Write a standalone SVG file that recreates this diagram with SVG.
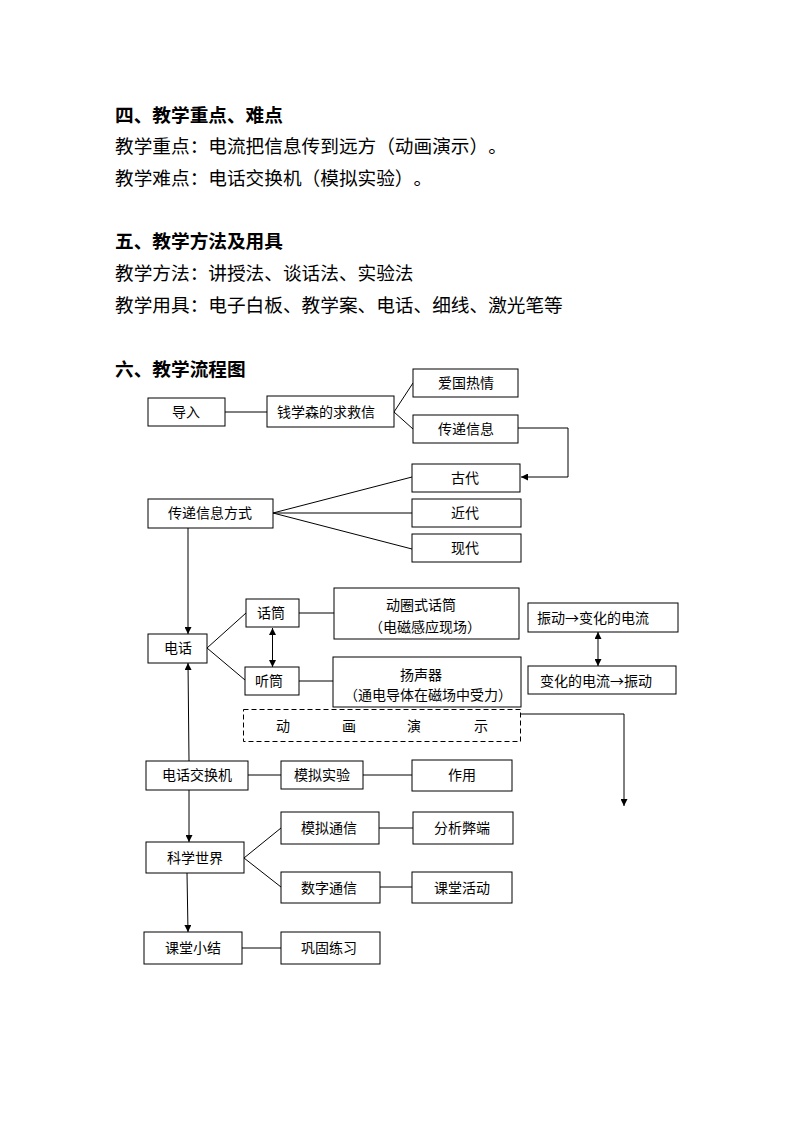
<svg xmlns="http://www.w3.org/2000/svg" width="794" height="1123" viewBox="0 0 794 1123">
<style>
text{font-family:"Noto Sans CJK SC","Noto Sans",sans-serif;fill:#000;text-spacing-trim:space-all}
.h{font-size:18.67px;font-weight:bold}
.b{font-size:18.67px}
.t{font-size:14px;text-anchor:middle}
.n rect{fill:#fff;stroke:#000;stroke-width:1}
.c line,.c polyline{stroke:#000;stroke-width:1;fill:none}
</style>
<defs>
<marker id="ah" viewBox="0 0 8 8" refX="8" refY="4" markerWidth="7" markerHeight="7" markerUnits="userSpaceOnUse" orient="auto-start-reverse">
<path d="M0,0 L8,4 L0,8 z" fill="#000"/>
</marker>
</defs>
<rect width="794" height="1123" fill="#fff"/>
<g id="text-sections">
<text class="h" x="115" y="122">四、教学重点、难点</text>
<text class="b" x="115" y="153">教学重点：电流把信息传到远方（动画演示）。</text>
<text class="b" x="115" y="185">教学难点：电话交换机（模拟实验）。</text>
<text class="h" x="115" y="248">五、教学方法及用具</text>
<text class="b" x="115" y="280">教学方法：讲授法、谈话法、实验法</text>
<text class="b" x="115" y="312">教学用具：电子白板、教学案、电话、细线、激光笔等</text>
<text class="h" x="115" y="376">六、教学流程图</text>
</g>
<g id="connectors" class="c">
<line x1="225" y1="412" x2="267" y2="412"/>
<line x1="394" y1="412" x2="413" y2="383"/>
<line x1="394" y1="412" x2="413" y2="429"/>
<polyline points="518,428 568,428 568,477 521,477" marker-end="url(#ah)"/>
<line x1="273" y1="513" x2="412" y2="477"/>
<line x1="273" y1="513" x2="412" y2="513"/>
<line x1="273" y1="513" x2="412" y2="549"/>
<line x1="188" y1="528" x2="188" y2="634" marker-end="url(#ah)"/>
<line x1="207" y1="648" x2="246" y2="613"/>
<line x1="207" y1="648" x2="245" y2="680"/>
<line x1="272.5" y1="628" x2="272.5" y2="667" marker-start="url(#ah)" marker-end="url(#ah)"/>
<line x1="299" y1="613" x2="334" y2="613"/>
<line x1="299" y1="681" x2="333" y2="681"/>
<line x1="598" y1="632" x2="598" y2="666" marker-start="url(#ah)" marker-end="url(#ah)"/>
<polyline points="521,714 624,714 624,806" marker-end="url(#ah)"/>
<line x1="189" y1="761" x2="188" y2="663" marker-end="url(#ah)"/>
<line x1="248" y1="775" x2="281" y2="775"/>
<line x1="363" y1="775" x2="412" y2="775"/>
<line x1="189" y1="790" x2="189" y2="842" marker-end="url(#ah)"/>
<line x1="244" y1="858" x2="281" y2="828"/>
<line x1="244" y1="858" x2="281" y2="887"/>
<line x1="379" y1="828" x2="413" y2="828"/>
<line x1="380" y1="887" x2="412" y2="887"/>
<line x1="187" y1="873" x2="188" y2="932" marker-end="url(#ah)"/>
<line x1="242" y1="948" x2="281" y2="948"/>
</g>
<g id="n-daoru" class="n"><rect x="148" y="398" width="77" height="28"/><text class="t" x="186" y="417">导入</text></g>
<g id="n-qian" class="n"><rect x="267" y="396" width="127" height="31"/><text class="t" x="326" y="417">钱学森的求救信</text></g>
<g id="n-aiguo" class="n"><rect x="413" y="369" width="105" height="28"/><text class="t" x="466" y="388">爱国热情</text></g>
<g id="n-chuandi" class="n"><rect x="413" y="415" width="105" height="28"/><text class="t" x="466" y="434">传递信息</text></g>
<g id="n-gudai" class="n"><rect x="412" y="464" width="108" height="28"/><text class="t" x="465" y="483">古代</text></g>
<g id="n-jindai" class="n"><rect x="412" y="499" width="109" height="28"/><text class="t" x="465" y="518">近代</text></g>
<g id="n-xiandai" class="n"><rect x="412" y="534" width="109" height="28"/><text class="t" x="465" y="553">现代</text></g>
<g id="n-fangshi" class="n"><rect x="148" y="499" width="125" height="29"/><text class="t" x="210" y="518">传递信息方式</text></g>
<g id="n-dianhua" class="n"><rect x="148" y="634" width="59" height="29"/><text class="t" x="178" y="653">电话</text></g>
<g id="n-huatong" class="n"><rect x="246" y="599" width="53" height="28"/><text class="t" x="271" y="618">话筒</text></g>
<g id="n-tingtong" class="n"><rect x="245" y="667" width="54" height="28"/><text class="t" x="269" y="686">听筒</text></g>
<g id="n-dongquan" class="n"><rect x="334" y="588" width="185" height="51"/><text class="t" x="421" y="610">动圈式话筒</text><text class="t" x="425" y="632">（电磁感应现场）</text></g>
<g id="n-yangsheng" class="n"><rect x="333" y="657" width="188" height="50"/><text class="t" x="421" y="680">扬声器</text><text class="t" x="428" y="700">（通电导体在磁场中受力）</text></g>
<g id="n-zhendong1" class="n"><rect x="528" y="603" width="150" height="29"/><text x="537" y="623" style="font-size:14px">振动→变化的电流</text></g>
<g id="n-zhendong2" class="n"><rect x="528" y="666" width="148" height="28"/><text x="540" y="686" style="font-size:14px">变化的电流→振动</text></g>
<g id="n-donghua">
<rect x="243.5" y="709.5" width="277" height="32" fill="none" stroke="#000" stroke-width="1" stroke-dasharray="5,3"/>
<text class="t" x="283" y="731">动</text><text class="t" x="349" y="731">画</text><text class="t" x="414" y="731">演</text><text class="t" x="481" y="731">示</text>
</g>
<g id="n-jiaohuanji" class="n"><rect x="146" y="761" width="102" height="29"/><text class="t" x="197" y="780">电话交换机</text></g>
<g id="n-moni" class="n"><rect x="281" y="761" width="82" height="28"/><text class="t" x="322" y="780">模拟实验</text></g>
<g id="n-zuoyong" class="n"><rect x="412" y="760" width="100" height="31"/><text class="t" x="462" y="780">作用</text></g>
<g id="n-monitx" class="n"><rect x="281" y="812" width="98" height="32"/><text class="t" x="329" y="833">模拟通信</text></g>
<g id="n-fenxi" class="n"><rect x="413" y="812" width="100" height="32"/><text class="t" x="462" y="833">分析弊端</text></g>
<g id="n-kexue" class="n"><rect x="146" y="842" width="98" height="31"/><text class="t" x="195" y="863">科学世界</text></g>
<g id="n-shuzi" class="n"><rect x="281" y="872" width="99" height="31"/><text class="t" x="329" y="893">数字通信</text></g>
<g id="n-huodong" class="n"><rect x="412" y="872" width="100" height="31"/><text class="t" x="462" y="893">课堂活动</text></g>
<g id="n-xiaojie" class="n"><rect x="144" y="932" width="98" height="32"/><text class="t" x="193" y="953">课堂小结</text></g>
<g id="n-gonggu" class="n"><rect x="281" y="932" width="99" height="32"/><text class="t" x="329" y="953">巩固练习</text></g>
</svg>
